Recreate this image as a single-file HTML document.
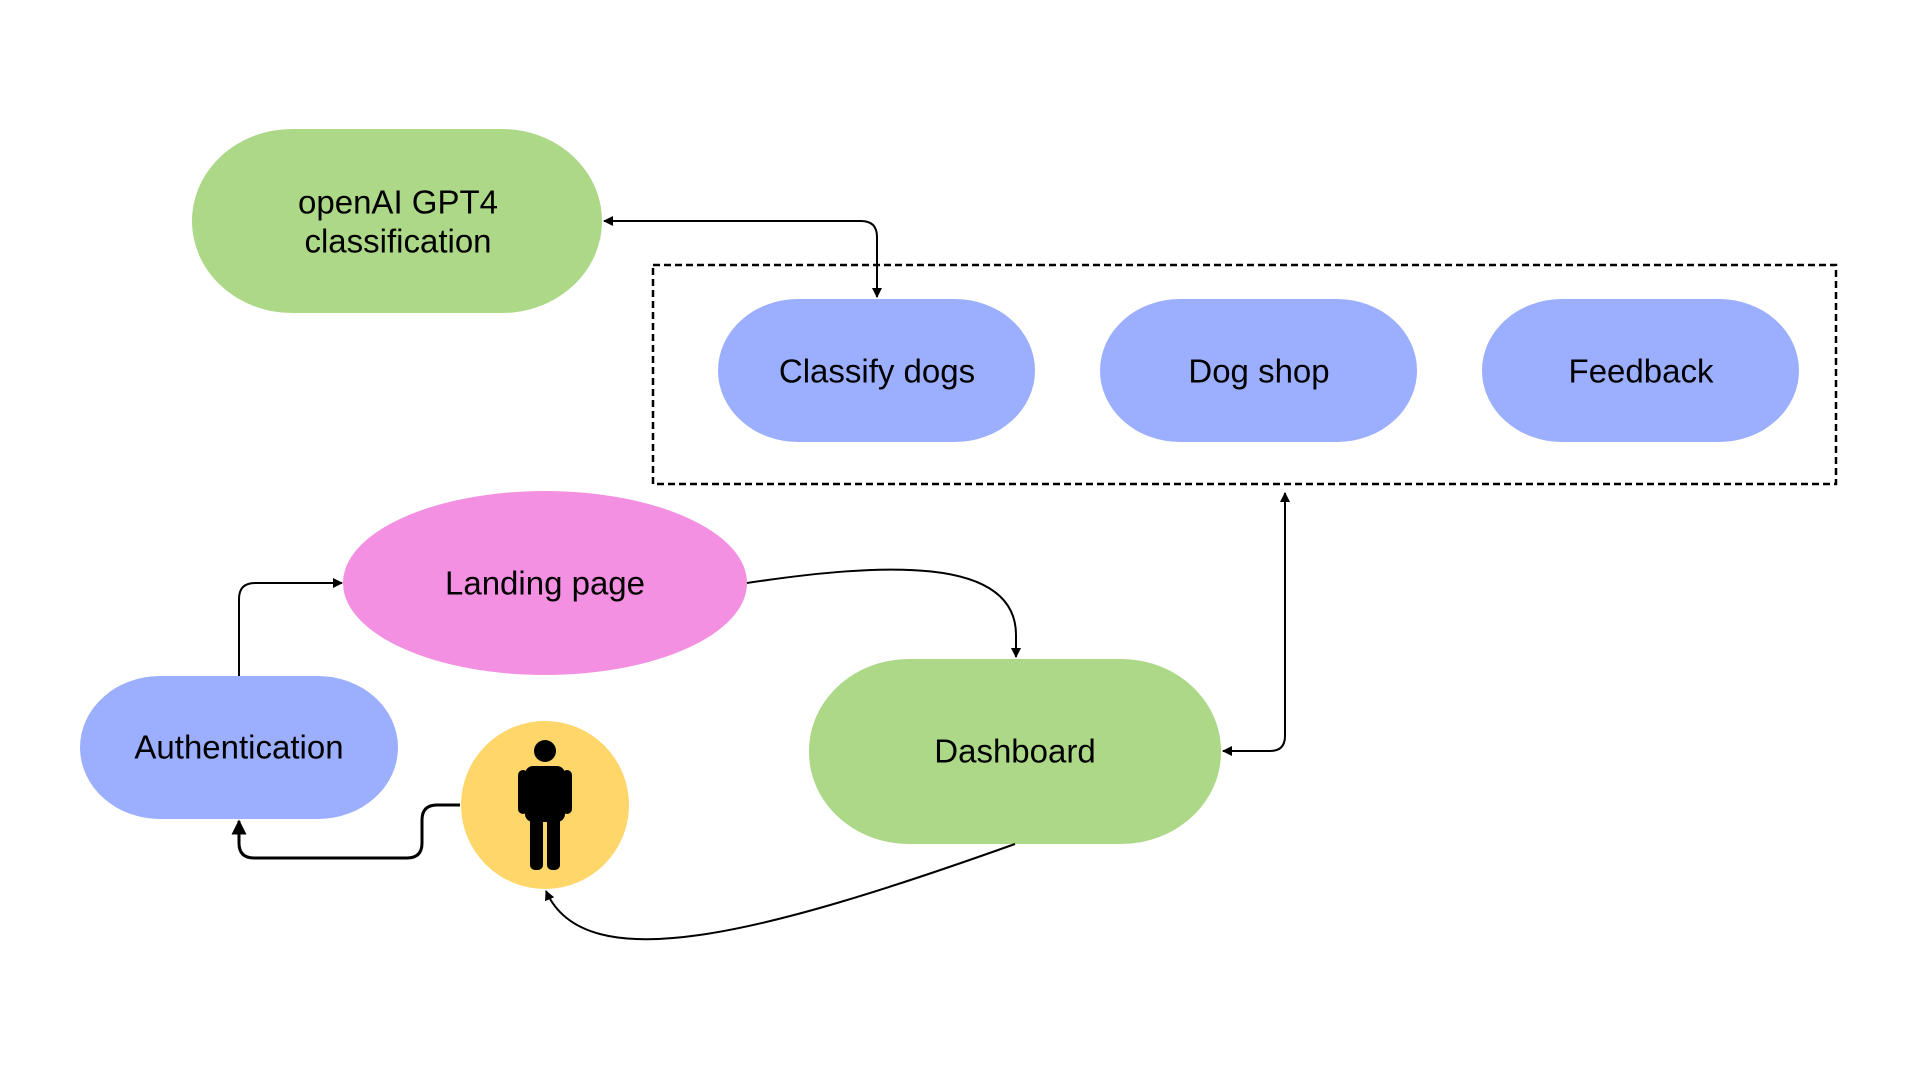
<!DOCTYPE html>
<html><head><style>
html,body{margin:0;padding:0;background:#fff;}
svg text{font-family:"Liberation Sans",sans-serif;font-size:33px;fill:#000;text-anchor:middle;dominant-baseline:central;}
</style></head><body>
<svg width="1920" height="1080" viewBox="0 0 1920 1080" xmlns="http://www.w3.org/2000/svg">
<defs>
<marker id="a" viewBox="0 0 10 10" refX="9" refY="5" markerWidth="5" markerHeight="5" orient="auto-start-reverse"><path d="M0,0 L10,5 L0,10 z" fill="#000"/></marker>
</defs>
<rect x="192" y="129" width="410" height="184" rx="100" ry="92" fill="#acd888"/>
<text x="398" y="202">openAI GPT4</text>
<text x="398" y="241">classification</text>
<rect x="653" y="265" width="1183" height="219" fill="none" stroke="#000" stroke-width="2.5" stroke-dasharray="7,4"/>
<rect x="718" y="299" width="317" height="143" rx="80" ry="71.5" fill="#9caffe"/>
<text x="877" y="371">Classify dogs</text>
<rect x="1100" y="299" width="317" height="143" rx="80" ry="71.5" fill="#9caffe"/>
<text x="1259" y="371">Dog shop</text>
<rect x="1482" y="299" width="317" height="143" rx="80" ry="71.5" fill="#9caffe"/>
<text x="1641" y="371">Feedback</text>
<ellipse cx="545" cy="583" rx="202" ry="92" fill="#f390e2"/>
<text x="545" y="583">Landing page</text>
<rect x="80" y="676" width="318" height="143" rx="80" ry="71.5" fill="#9caffe"/>
<text x="239" y="747">Authentication</text>
<rect x="809" y="659" width="412" height="185" rx="100" ry="92" fill="#acd888"/>
<text x="1015" y="751">Dashboard</text>
<circle cx="545" cy="805" r="84" fill="#fed66a"/>
<g fill="#000">
<circle cx="545" cy="751" r="11"/>
<rect x="525" y="766" width="40" height="56" rx="8"/>
<rect x="518" y="770" width="10" height="44" rx="5"/>
<rect x="562" y="770" width="10" height="44" rx="5"/>
<rect x="530" y="810" width="13" height="60" rx="5"/>
<rect x="547" y="810" width="13" height="60" rx="5"/>
</g>
<g fill="none" stroke="#000" stroke-width="2">
<path d="M604,221 L861,221 Q877,221 877,237 L877,297" marker-start="url(#a)" marker-end="url(#a)"/>
<path d="M239,676 L239,599 Q239,583 255,583 L342,583" marker-end="url(#a)"/>
<path d="M747,583 C880,563 1016,555 1016,635 L1016,657" marker-end="url(#a)"/>
<path d="M1223,751 L1270,751 Q1285,751 1285,736 L1285,493" marker-start="url(#a)" marker-end="url(#a)"/>
<path d="M1015,844 C760,935 585,980 546,891" marker-end="url(#a)"/>
<path d="M460,805 L437,805 Q422,805 422,820 L422,843 Q422,858 407,858 L254,858 Q239,858 239,843 L239,821" stroke-width="3" marker-end="url(#a)"/>
</g>
</svg>
</body></html>
